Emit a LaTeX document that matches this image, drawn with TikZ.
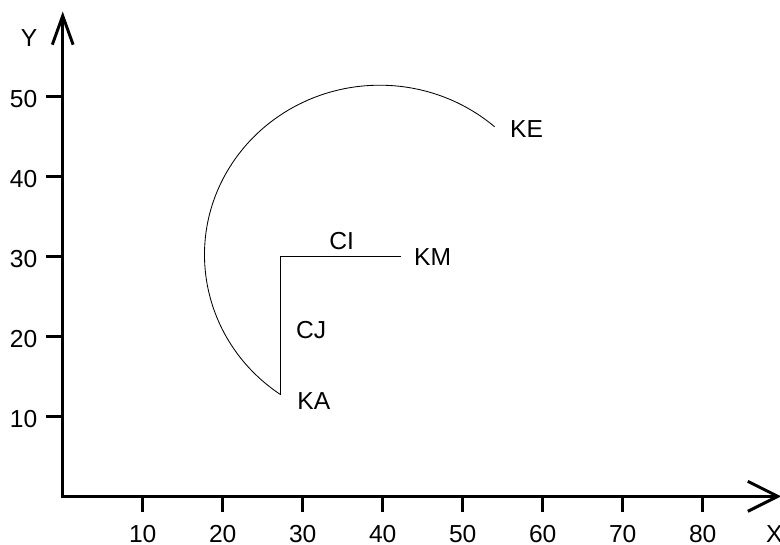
\documentclass[tikz,border=0pt]{standalone}
\usepackage{fontspec}
\setmainfont{Liberation Sans}
\usepackage{tikz}
\usetikzlibrary{arrows.meta}

\begin{document}
\begin{tikzpicture}[x=0.2cm, y=0.2cm,
  axis/.style={line width=2.1pt, line join=miter},
  tickmark/.style={line width=2.1pt},
  curve/.style={line width=0.6pt},
  lbl/.style={font=\fontsize{17.5}{21}\selectfont, inner sep=0pt}
]
\useasboundingbox (-7.84,-5.96) rectangle (89.66,62.04);

%% ---- Axes ----
\coordinate (O)    at (0, 0);
\coordinate (Ytip) at (0, 60.6);
\coordinate (Xtip) at (89.8, 0);
\draw[axis, arrows={Straight Barb[length=0.72cm, width=0.52cm]-Straight Barb[length=0.75cm, width=0.75cm]}]
  (Ytip) -- (O) -- (Xtip);
\node[lbl, anchor=base east] (ylab) at (-3.15, 56.2) {Y};
\node[lbl, anchor=base west] (xlab) at (87.9, -5.75) {X};

%% ---- X ticks ----
\draw[tickmark] (10,0) -- (10,-2);  \node[lbl, anchor=base] (x10) at (10,-5.75) {10};
\draw[tickmark] (20,0) -- (20,-2);  \node[lbl, anchor=base] (x20) at (20,-5.75) {20};
\draw[tickmark] (30,0) -- (30,-2);  \node[lbl, anchor=base] (x30) at (30,-5.75) {30};
\draw[tickmark] (40,0) -- (40,-2);  \node[lbl, anchor=base] (x40) at (40,-5.75) {40};
\draw[tickmark] (50,0) -- (50,-2);  \node[lbl, anchor=base] (x50) at (50,-5.75) {50};
\draw[tickmark] (60,0) -- (60,-2);  \node[lbl, anchor=base] (x60) at (60,-5.75) {60};
\draw[tickmark] (70,0) -- (70,-2);  \node[lbl, anchor=base] (x70) at (70,-5.75) {70};
\draw[tickmark] (80,0) -- (80,-2);  \node[lbl, anchor=base] (x80) at (80,-5.75) {80};

%% ---- Y ticks ----
\draw[tickmark] (0,10) -- (-2.1,10); \node[lbl, anchor=base east] (y10) at (-3.15, 8.55) {10};
\draw[tickmark] (0,20) -- (-2.1,20); \node[lbl, anchor=base east] (y20) at (-3.15,18.55) {20};
\draw[tickmark] (0,30) -- (-2.1,30); \node[lbl, anchor=base east] (y30) at (-3.15,28.55) {30};
\draw[tickmark] (0,40) -- (-2.1,40); \node[lbl, anchor=base east] (y40) at (-3.15,38.55) {40};
\draw[tickmark] (0,50) -- (-2.1,50); \node[lbl, anchor=base east] (y50) at (-3.15,48.55) {50};

%% ---- Points ----
\coordinate (KA) at (27.25, 12.7);
\coordinate (CJI) at (27.25, 29.95);
\coordinate (KM) at (42.3, 29.95);

%% ---- Elements ----
\draw[curve] (KA) -- (CJI) -- (KM);
\draw[curve] (KA) arc[start angle=235.6, end angle=49, x radius=21.9, y radius=21.2] coordinate (KE);

%% ---- Labels ----
\node[lbl, anchor=base west] (kalab) at (29.3, 10.8)  {KA};
\node[lbl, anchor=base west] (cjlab) at (29.15, 19.75) {CJ};
\node[lbl, anchor=base west] (cilab) at (33.3, 30.8)  {CI};
\node[lbl, anchor=base west] (kmlab) at (43.9, 28.9)  {KM};
\node[lbl, anchor=base west] (kelab) at (55.9, 44.9)  {KE};

\end{tikzpicture}
\end{document}
